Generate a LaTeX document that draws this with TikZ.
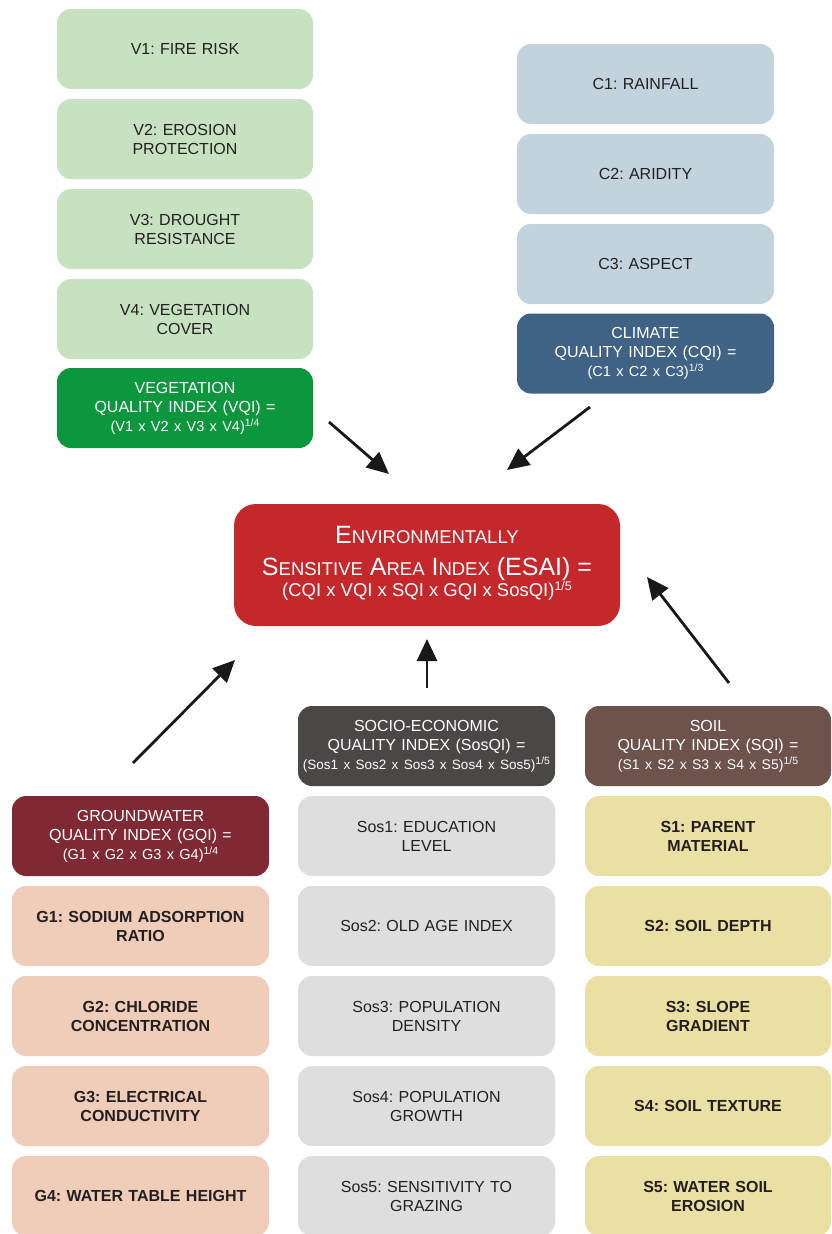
\documentclass[tikz,border=0pt]{standalone}
\usepackage{fontspec}
\setmainfont{Liberation Sans}
\usetikzlibrary{arrows.meta}
\frenchspacing
\definecolor{vegL}{RGB}{199,226,192}
\definecolor{vegD}{RGB}{12,150,62}
\definecolor{cliL}{RGB}{194,211,222}
\definecolor{cliD}{RGB}{64,98,132}
\definecolor{esaiR}{RGB}{196,40,43}
\definecolor{sosD}{RGB}{74,71,71}
\definecolor{sosL}{RGB}{222,222,222}
\definecolor{soilD}{RGB}{110,82,76}
\definecolor{soilL}{RGB}{235,224,164}
\definecolor{gwD}{RGB}{127,41,53}
\definecolor{gwL}{RGB}{239,205,185}
\definecolor{txt}{RGB}{35,31,32}
\newcommand{\supx}[1]{\raisebox{5pt}{\fontsize{10.5}{11}\selectfont #1}}
\newcommand{\formula}[2][14]{{\fontsize{#1}{16}\selectfont #2}}
\newcommand{\bsc}[2]{{\fontsize{25}{25}\selectfont #1}{\fontsize{18.5}{19}\selectfont #2}}
\newcommand{\bsp}{{\fontsize{25}{25}\selectfont\ }}
\tikzset{
  box/.style={rounded corners=14pt, minimum height=80pt, text width=252pt, align=center, inner sep=0pt, font=\fontsize{16}{19}\selectfont},
  lightbox/.style={box, fill=#1, text=txt},
  darkbox/.style={box, fill=#1, text=white},
  boldbox/.style={box, fill=#1, text=txt, font=\fontsize{16}{19}\selectfont\bfseries},
  esailine/.style={anchor=base, text=white, inner sep=0pt},
  arr/.style={line width=2.8pt, draw=black!90, -{Triangle[length=22pt,width=20pt]}}
}
\begin{document}
\begin{tikzpicture}[x=1pt,y=-1pt]
\useasboundingbox (0,0) rectangle (831,1234);
% Vegetation
\node[lightbox=vegL, minimum width=256pt] (v1) at (185,49) {V1: FIRE RISK};
\node[lightbox=vegL, minimum width=256pt] (v2) at (185,139) {V2: EROSION\\PROTECTION};
\node[lightbox=vegL, minimum width=256pt] (v3) at (185,229) {V3: DROUGHT\\RESISTANCE};
\node[lightbox=vegL, minimum width=256pt] (v4) at (185,319) {V4: VEGETATION\\COVER};
\node[darkbox=vegD, minimum width=256pt] (vqi) at (185,408) {VEGETATION\\QUALITY INDEX (VQI) =\\\formula[14.5]{(V1 x V2 x V3 x V4)\supx{1/4}}};
% Climate
\node[lightbox=cliL, minimum width=257pt] (c1) at (645.5,84) {C1: RAINFALL};
\node[lightbox=cliL, minimum width=257pt] (c2) at (645.5,174) {C2: ARIDITY};
\node[lightbox=cliL, minimum width=257pt] (c3) at (645.5,264) {C3: ASPECT};
\node[darkbox=cliD, minimum width=257pt] (cqi) at (645.5,353.5) {CLIMATE\\QUALITY INDEX (CQI) =\\\formula[14.5]{(C1 x C2 x C3)\supx{1/3}}};
% ESAI
\node[fill=esaiR, rounded corners=22pt, minimum width=386pt, minimum height=122pt, inner sep=0pt] (esai) at (427,565) {};
\node[esailine] (esaiA) at (427,543) {\bsc{E}{NVIRONMENTALLY}};
\node[esailine] (esaiB) at (427,575) {\bsc{S}{ENSITIVE}\bsp\bsc{A}{REA}\bsp\bsc{I}{NDEX}\bsp{\fontsize{25}{25}\selectfont(ESAI) =}};
\node[esailine, font=\fontsize{18.5}{19}\selectfont] (esaiC) at (427,596) {(CQI x VQI x SQI x GQI x SosQI)\raisebox{6pt}{\fontsize{12.5}{13}\selectfont 1/5}};
% Socio-economic
\node[darkbox=sosD, minimum width=257pt] (sosqi) at (426.5,746) {SOCIO-ECONOMIC\\QUALITY INDEX (SosQI) =\\\formula[13.5]{(Sos1 x Sos2 x Sos3 x Sos4 x Sos5)\supx{1/5}}};
\node[lightbox=sosL, minimum width=257pt] (sos1) at (426.5,836) {Sos1: EDUCATION\\LEVEL};
\node[lightbox=sosL, minimum width=257pt] (sos2) at (426.5,926) {Sos2: OLD AGE INDEX};
\node[lightbox=sosL, minimum width=257pt] (sos3) at (426.5,1016) {Sos3: POPULATION\\DENSITY};
\node[lightbox=sosL, minimum width=257pt] (sos4) at (426.5,1106) {Sos4: POPULATION\\GROWTH};
\node[lightbox=sosL, minimum width=257pt] (sos5) at (426.5,1196) {Sos5: SENSITIVITY TO\\GRAZING};
% Soil
\node[darkbox=soilD, minimum width=246pt, text width=242pt] (sqi) at (708,746) {SOIL\\QUALITY INDEX (SQI) =\\\formula{(S1 x S2 x S3 x S4 x S5)\supx{1/5}}};
\node[boldbox=soilL, minimum width=246pt, text width=242pt] (s1) at (708,836) {S1: PARENT\\MATERIAL};
\node[boldbox=soilL, minimum width=246pt, text width=242pt] (s2) at (708,926) {S2: SOIL DEPTH};
\node[boldbox=soilL, minimum width=246pt, text width=242pt] (s3) at (708,1016) {S3: SLOPE\\GRADIENT};
\node[boldbox=soilL, minimum width=246pt, text width=242pt] (s4) at (708,1106) {S4: SOIL TEXTURE};
\node[boldbox=soilL, minimum width=246pt, text width=242pt] (s5) at (708,1196) {S5: WATER SOIL\\EROSION};
% Groundwater
\node[darkbox=gwD, minimum width=257pt] (gqi) at (140.5,836) {GROUNDWATER\\QUALITY INDEX (GQI) =\\\formula[14.5]{(G1 x G2 x G3 x G4)\supx{1/4}}};
\node[boldbox=gwL, minimum width=257pt] (g1) at (140.5,926) {G1: SODIUM ADSORPTION\\RATIO};
\node[boldbox=gwL, minimum width=257pt] (g2) at (140.5,1016) {G2: CHLORIDE\\CONCENTRATION};
\node[boldbox=gwL, minimum width=257pt] (g3) at (140.5,1106) {G3: ELECTRICAL\\CONDUCTIVITY};
\node[boldbox=gwL, minimum width=257pt] (g4) at (140.5,1196) {G4: WATER TABLE HEIGHT};
% Arrows
\coordinate (a1s) at (329,422); \coordinate (a1e) at (389,474);
\coordinate (a2s) at (590,407); \coordinate (a2e) at (507,470);
\coordinate (a3s) at (427,688); \coordinate (a3e) at (427,639);
\coordinate (a4s) at (133,763); \coordinate (a4e) at (235,660);
\coordinate (a5s) at (729,683); \coordinate (a5e) at (647,577);
\draw[arr] (a1s) -- (a1e);
\draw[arr] (a2s) -- (a2e);
\draw[arr] (a3s) -- (a3e);
\draw[arr] (a4s) -- (a4e);
\draw[arr] (a5s) -- (a5e);
\end{tikzpicture}
\end{document}
